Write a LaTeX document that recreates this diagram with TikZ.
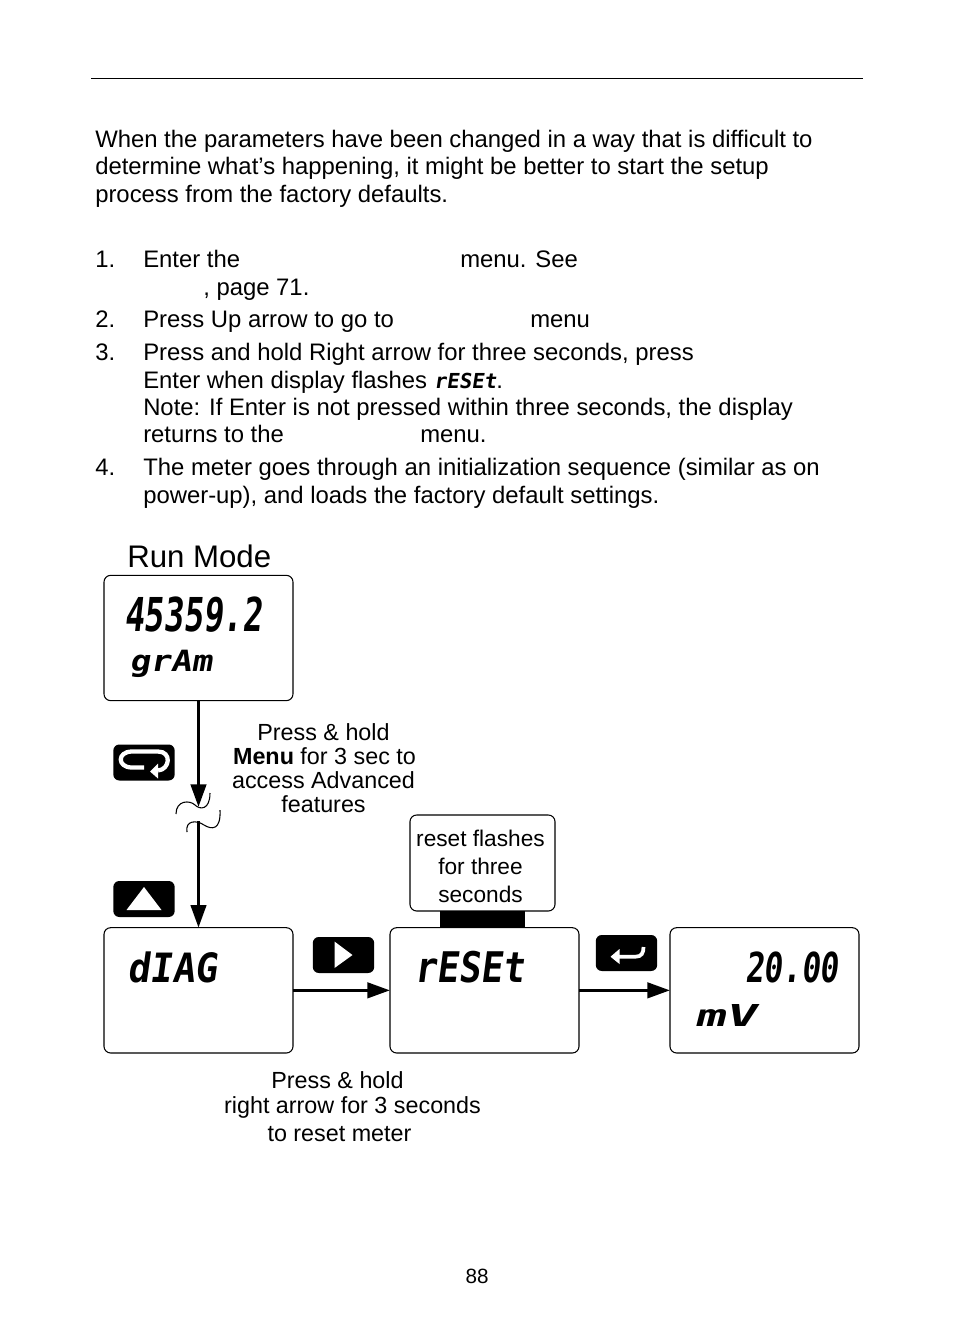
\documentclass[tikz,border=0pt]{standalone}
\usepackage{fontspec}
\usepackage{graphicx}
\setmainfont{Liberation Sans}
\newfontfamily\lcdfont[FakeSlant=0.15]{DejaVu Sans Mono}
\usetikzlibrary{arrows.meta, positioning}
\newcommand{\lcdtext}[3]{\resizebox{#1pt}{#2pt}{\lcdfont\bfseries #3}}
\tikzset{
  bodytext/.style={anchor=base west, inner sep=0pt, font=\fontsize{17.9}{20}\selectfont},
  dispbox/.style={rectangle, rounded corners=5pt, draw=black, line width=0.8pt, outer sep=0pt,
    minimum width=141.75pt, minimum height=94pt, inner sep=0pt},
  keybtn/.style={rectangle, rounded corners=4.5pt, fill=black,
    minimum width=46pt, minimum height=27pt, inner sep=0pt},
  lcd/.style={anchor=base west, inner sep=0pt},
  difflabel/.style={anchor=base, inner sep=0pt, font=\fontsize{17.5}{18}\selectfont},
  arrow/.style={-{Triangle[length=17pt, width=11.5pt]}, line width=2.5pt, black},
  breakmark/.style={line width=0.8pt, black},
}
\begin{document}
\begin{tikzpicture}[x=0.75pt, y=-0.75pt]
\useasboundingbox (0,0) rectangle (954,1336);
\draw[line width=0.5pt] (91,78) -- (863,78);
% intro text
\node[bodytext] (introa) at (95,147) {When the parameters have been changed in a way that is difficult to};
\node[bodytext] (introb) at (95,174) {determine what’s happening, it might be better to start the setup};
\node[bodytext] (introc) at (95,202) {process from the factory defaults.};
% numbered steps
\node[bodytext] (numa) at (95,267) {1.};
\node[bodytext] (stepaa) at (143,267) {Enter the};
\node[bodytext] (stepab) at (460,267) {menu. See};
\node[bodytext] (stepac) at (203,295) {, page 71.};
\node[bodytext] (numb) at (95,327) {2.};
\node[bodytext] (stepba) at (143,327) {Press Up arrow to go to};
\node[bodytext] (stepbb) at (530,327) {menu};
\node[bodytext] (numc) at (95,360) {3.};
\node[bodytext] (stepca) at (143,360) {Press and hold Right arrow for three seconds, press};
\node[bodytext] (stepcb) at (143,388) {Enter when display flashes \lcdtext{47}{11.5}{rESEt}.};
\node[bodytext] (stepcc) at (143,415) {Note: If Enter is not pressed within three seconds, the display};
\node[bodytext] (stepcd) at (143,442) {returns to the};
\node[bodytext] (stepce) at (420,442) {menu.};
\node[bodytext] (numd) at (95,475) {4.};
\node[bodytext] (stepda) at (143,475) {The meter goes through an initialization sequence (similar as on};
\node[bodytext] (stepdb) at (143,503) {power-up), and loads the factory default settings.};
% displays
\node[anchor=base west, inner sep=0pt, font=\fontsize{23.4}{25}\selectfont] (runlabel) at (127,567) {Run Mode};
\node[dispbox] (runbox) at (198.5,638) {};
\node[dispbox, below=170.25pt of runbox] (diagbox) {};
\node[dispbox, right=72.75pt of diagbox] (resetbox) {};
\node[dispbox, right=68.25pt of resetbox] (meterbox) {};
\node[lcd] (runval) at (124,631) {\lcdtext{103.5}{26}{45359.2}};
\node[lcd] (rununit) at (129,671) {\lcdtext{62}{16}{grAm}};
\node[lcd] (diagval) at (127,982) {\lcdtext{67.5}{23}{dIAG}};
\node[lcd] (resetval) at (414,982) {\lcdtext{82.5}{23.5}{rESEt}};
\node[lcd] (meterval) at (745,982) {\lcdtext{70}{23}{20.00}};
\node[lcd] (meterunit) at (694,1026) {\lcdtext{46}{16.5}{mV}};
% keys
\node[keybtn] (menubtn) at (144,762.5) {};
\node[keybtn] (upbtn) at (144,899) {};
\node[keybtn] (rightbtn) at (343.5,955) {};
\node[keybtn] (enterbtn) at (626.5,953) {};
\draw[white, line width=3.2pt, shift={(menubtn.center)}] (14,8) .. controls (26,7) and (28,-11) .. (14,-11)
  -- (-12,-11) .. controls (-27,-11) and (-27,5) .. (-12,5) -- (0,5);
\fill[white, shift={(menubtn.center)}] (6,9) -- (14,1) -- (14,16) -- cycle;
\fill[white, shift={(upbtn.center)}] (0,-12) -- (17.5,11) -- (-17.5,11) -- cycle;
\fill[white, shift={(rightbtn.center)}] (-9,-13.5) -- (9,0) -- (-9,13) -- cycle;
\draw[white, line width=2.8pt, shift={(enterbtn.center)}] (-8,3.7) -- (9,3.7) .. controls (15,3.7) and (17,0) .. (17,-6);
\fill[white, shift={(enterbtn.center)}] (-16,3.7) -- (-7,-4) -- (-7,11) -- cycle;
% note over reset
\node[rectangle, fill=black, minimum width=63.75pt, minimum height=12.75pt, inner sep=0pt] (notebar) at (482.5,919.5) {};
\node[rectangle, rounded corners=5pt, draw=black, line width=0.8pt, minimum width=108.75pt, minimum height=72pt,
  inner sep=0pt] (notebox) at (482.5,863) {};
\node[inner sep=0pt, align=center, font=\fontsize{17}{21}\selectfont] (notetext) at (480.5,866) {reset flashes\\for three\\seconds};
% labels
\node[difflabel] (holda) at (323.5,740) {Press \& hold};
\node[difflabel] (holdb) at (324.5,764) {\textbf{Menu} for 3 sec to};
\node[difflabel] (holdc) at (323.5,788) {access Advanced};
\node[difflabel] (holdd) at (323.5,812) {features};
\node[difflabel] (rsta) at (337.5,1088) {Press \& hold};
\node[difflabel] (rstb) at (352.5,1113) {right arrow for 3 seconds};
\node[difflabel] (rstc) at (339.5,1141) {to reset meter};
\node[anchor=base, inner sep=0pt, font=\fontsize{15.5}{17}\selectfont] (pagenum) at (477,1283) {88};
% connectors
\coordinate (breakhi) at (198.5,807);
\coordinate (breaklo) at (198.5,821);
\draw[arrow] (runbox.south) -- (breakhi);
\draw[arrow] (breaklo) -- (diagbox.north);
\draw[breakmark] (176,814) .. controls (176,800) and (190,800) .. (195,805) .. controls (200,810) and (210,810) .. (210,793);
\draw[breakmark] (187,832) .. controls (185,820) and (197,820) .. (204,825) .. controls (212,830) and (221,830) .. (220,810);
\draw[arrow] (diagbox.east) -- (resetbox.west);
\draw[arrow] (resetbox.east) -- (meterbox.west);
\end{tikzpicture}
\end{document}
